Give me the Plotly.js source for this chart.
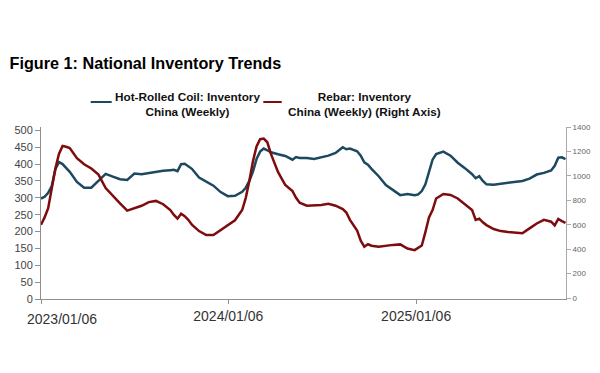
<!DOCTYPE html>
<html>
<head>
<meta charset="utf-8">
<script src="https://cdn.plot.ly/plotly-3.0.1.min.js"></script>
<style>
html,body{margin:0;padding:0;background:#fff;}
#chart{width:600px;height:373px;}
</style>
</head>
<body>
<div id="chart"></div>
<script>
const dates = [
"2023-01-06","2023-01-13","2023-01-20","2023-01-27","2023-02-03","2023-02-10","2023-02-17","2023-02-24",
"2023-03-03","2023-03-17","2023-03-31","2023-04-14","2023-04-28","2023-05-12","2023-05-26","2023-06-09",
"2023-06-23","2023-07-07","2023-07-21","2023-08-04","2023-08-18","2023-09-01","2023-09-15","2023-09-22",
"2023-09-29","2023-10-06","2023-10-13","2023-10-20","2023-10-27","2023-11-10","2023-11-24","2023-12-08",
"2023-12-22","2024-01-05","2024-01-19","2024-02-02","2024-02-09","2024-02-16","2024-02-23","2024-03-01",
"2024-03-08","2024-03-15","2024-03-22","2024-03-29","2024-04-12","2024-04-26","2024-05-10","2024-05-17",
"2024-05-24","2024-06-07","2024-06-21","2024-07-05","2024-07-19","2024-08-02","2024-08-16","2024-08-23",
"2024-08-30","2024-09-13","2024-09-20","2024-09-27","2024-10-04","2024-10-11","2024-10-25","2024-11-08",
"2024-11-22","2024-12-06","2024-12-20","2025-01-03","2025-01-10","2025-01-17","2025-01-24","2025-01-31",
"2025-02-07","2025-02-14","2025-02-28","2025-03-14","2025-03-28","2025-04-11","2025-04-25","2025-05-02",
"2025-05-09","2025-05-16","2025-05-23","2025-06-06","2025-06-20","2025-07-04","2025-07-18","2025-08-01",
"2025-08-15","2025-08-29","2025-09-12","2025-09-26","2025-10-03","2025-10-10","2025-10-17","2025-10-24"
];

// Hot-Rolled Coil inventory (left axis)
const hrc = [
298,303,315,335,385,406,400,388,
377,347,330,330,350,371,363,355,
353,372,370,374,377,380,382,383,
379,400,401,394,386,360,349,336,
317,305,306,318,330,350,378,415,
437,446,441,435,429,424,413,421,
418,418,415,419,425,433,450,444,
446,438,425,405,398,386,364,338,
322,308,311,308,310,320,340,380,
413,430,437,425,404,388,370,358,
364,350,340,339,342,345,346,350,
357,369,374,381,395,419,420,415
];

// Rebar inventory (right axis)
const rebar = [
600,660,735,900,1060,1180,1245,1238,
1228,1145,1095,1060,1010,900,835,775,
715,735,755,785,795,768,720,680,
650,690,670,640,600,548,515,515,
556,600,636,720,820,960,1120,1240,
1300,1305,1275,1180,1030,925,875,820,
780,756,758,762,772,756,728,700,
640,552,470,420,440,428,420,430,
435,439,405,392,410,430,540,660,
720,815,852,844,815,770,720,640,
650,620,597,565,548,540,535,530,
570,610,640,625,595,647,630,615
];

const seriesNames = ["Hot-Rolled Coil: Inventory<br>China (Weekly)", "Rebar: Inventory<br>China (Weekly) (Right Axis)"];
const xTickVals = ["2023-01-06","2024-01-06","2025-01-06"];
const xTickText = ["", "2024/01/06", "2025/01/06"];
const firstTickLabel = "2023/01/06";
const leftTicks = [0,50,100,150,200,250,300,350,400,450,500];
const rightTicks = [0,200,400,600,800,1000,1200,1400];

const blue = "#1d4860";
const red = "#7f0c0c";
const axisGray = "#8f8f8f";
const font = "Liberation Sans, Arial, sans-serif";

const traces = [
  {x: dates, y: hrc, type: "scatter", mode: "lines", name: seriesNames[0],
   line: {color: blue, width: 2.5}, yaxis: "y", showlegend: false},
  {x: dates, y: rebar, type: "scatter", mode: "lines", name: seriesNames[1],
   line: {color: red, width: 2.5}, yaxis: "y2", showlegend: false}
];

const layout = {
  width: 600, height: 373,
  margin: {l: 41, r: 34, t: 127, b: 74, pad: 0},
  paper_bgcolor: "#fff", plot_bgcolor: "#fff",
  font: {family: font, color: "#333"},
  title: {text: "Figure 1: National Inventory Trends",
          font: {family: font, size: 16.2, color: "#000", weight: "bold"},
          xref: "container", yref: "container", x: 0.016, xanchor: "left",
          y: 1 - 63/373, yanchor: "middle"},
  xaxis: {type: "date", range: ["2023-01-06", "2025-10-25"],
          tickmode: "array", tickvals: xTickVals, ticktext: xTickText,
          ticks: "outside", ticklen: 4, tickcolor: axisGray,
          showline: true, linecolor: axisGray, linewidth: 1,
          showgrid: false, zeroline: false,
          tickfont: {family: font, size: 14, color: "#333"}},
  yaxis: {range: [0, 510], tickvals: leftTicks, ticks: "outside", ticklen: 5,
          tickcolor: axisGray, showline: true, linecolor: axisGray, linewidth: 1,
          showgrid: false, zeroline: false,
          tickfont: {family: font, size: 11, color: "#444"}},
  yaxis2: {range: [-8, 1400], tickvals: rightTicks, overlaying: "y", side: "right",
           ticks: "outside", ticklen: 4, tickcolor: "#aaa",
           showline: true, linecolor: "#aaa", linewidth: 1,
           showgrid: false, zeroline: false,
           tickfont: {family: font, size: 8, color: "#666"}},
  showlegend: false,
  shapes: [
    {type: "line", xref: "paper", yref: "paper", x0: (90.7-41)/525, x1: (111.7-41)/525,
     y0: (299-102)/172, y1: (299-102)/172, line: {color: blue, width: 2}},
    {type: "line", xref: "paper", yref: "paper", x0: (263.3-41)/525, x1: (281.7-41)/525,
     y0: (299-102)/172, y1: (299-102)/172, line: {color: red, width: 2}}
  ],
  annotations: [
    {text: "<b>" + seriesNames[0] + "</b>", xref: "paper", yref: "paper",
     x: (187.5-41)/525, y: (299-104)/172, xanchor: "center", yanchor: "middle",
     align: "center", showarrow: false, font: {family: font, size: 11.75, color: "#111"}},
    {text: "<b>" + seriesNames[1] + "</b>", xref: "paper", yref: "paper",
     x: (364-41)/525, y: (299-104)/172, xanchor: "center", yanchor: "middle",
     align: "center", showarrow: false, font: {family: font, size: 11.75, color: "#111"}},
    {text: firstTickLabel, xref: "paper", yref: "paper",
     x: (61.7-41)/525, y: (299-318.5)/172, xanchor: "center", yanchor: "middle",
     showarrow: false, font: {family: font, size: 14, color: "#333"}}
  ]
};

Plotly.newPlot("chart", traces, layout, {displayModeBar: false, staticPlot: true});
</script>
</body>
</html>
